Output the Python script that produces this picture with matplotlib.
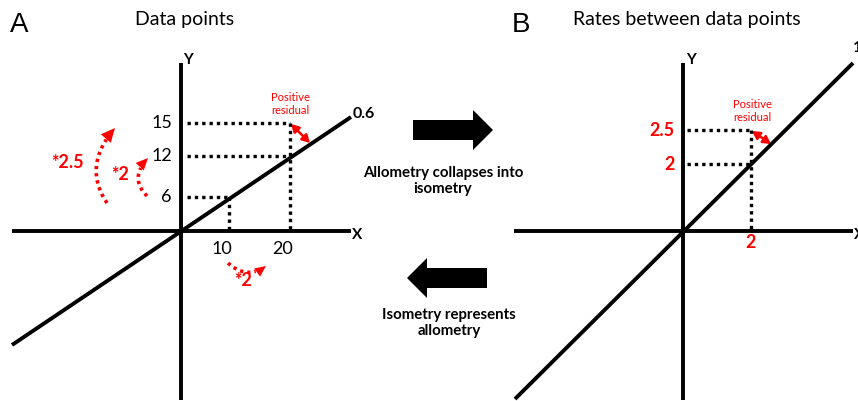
import numpy as np
import matplotlib.pyplot as plt
from matplotlib.patches import FancyArrowPatch, FancyArrow, Polygon

plt.rcParams['font.family'] = ['Lato', 'DejaVu Sans']

# panel A: data points (schematic values)
a_x_vals = [10, 20]
a_y_vals = [6, 12, 15]
a_slope = '0.6'
a_factors = ['*2.5', '*2', '*2']

# panel B: rates between data points
b_x_vals = [2]
b_y_vals = [2, 2.5]
b_slope = '1'

mid_top = 'Allometry collapses into\nisometry'
mid_bottom = 'Isometry represents\nallometry'

# schematic pixel positions of the values above
a_org = (181, 231)
a_x_pos = [229, 290]
a_y_pos = [197, 156, 123]
b_org = (683, 231)
b_x_pos = [751]
b_y_pos = [164, 130]

W, H = 858, 401
fig = plt.figure(figsize=(8.58, 4.01), dpi=100)
ax = fig.add_axes([0, 0, 1, 1])
ax.set_xlim(0, W)
ax.set_ylim(H, 0)
ax.axis('off')

solid = dict(color='black', lw=2.8, solid_capstyle='butt')
dots = dict(color='black', lw=2.4, linestyle=(0, (1, 1.2)), dash_capstyle='butt')
red = '#ff0000'


def dotted_arc(p0, ctrl, tip, head_len, head_w):
    # quadratic curve drawn dotted, with a solid triangular head at the tip
    p0, ctrl, tip = map(np.asarray, (p0, ctrl, tip))
    t = np.linspace(0, 1, 60)[:, None]
    pts = (1 - t) ** 2 * p0 + 2 * (1 - t) * t * ctrl + t ** 2 * tip
    d = tip - ctrl
    d = d / np.hypot(*d)
    base = tip - d * head_len
    keep = np.hypot(*(pts - tip).T) > head_len
    ax.plot(pts[keep, 0], pts[keep, 1], color=red, lw=2.6,
            linestyle=(0, (0.9, 1.1)), dash_capstyle='butt')
    n = np.array([-d[1], d[0]])
    ax.add_patch(Polygon([tip, base + n * head_w / 2, base - n * head_w / 2],
                         closed=True, color=red, lw=0))


# ---- panel A ----
ox, oy = a_org
ax.plot([ox, ox], [63, 400], **solid)
ax.plot([12, 351], [oy, oy], **solid)
ax.plot([12, 351], [345, 117], **solid)
ax.text(183, 60, 'Y', fontsize=11, fontweight='bold', ha='left', va='center')
ax.text(352, 235, 'X', fontsize=11, fontweight='bold', ha='left', va='center')
ax.text(353, 114, a_slope, fontsize=11.5, fontweight='bold', ha='left', va='center')

# dotted guides: y=6 -> x=10, y=12/15 -> x=20
ax.plot([187, a_x_pos[0]], [a_y_pos[0]] * 2, **dots)
ax.plot([a_x_pos[0]] * 2, [a_y_pos[0], oy - 2], **dots)
for yp in a_y_pos[1:]:
    ax.plot([187, a_x_pos[1]], [yp, yp], **dots)
ax.plot([a_x_pos[1]] * 2, [a_y_pos[2], oy - 2], **dots)

for v, yp in zip(a_y_vals, a_y_pos):
    ax.text(172, yp, str(v), fontsize=13, ha='right', va='center')
for v, xp in zip(a_x_vals, a_x_pos):
    ax.text(xp - 7, 249, str(v), fontsize=13, ha='center', va='center')

# positive residual
ax.add_patch(FancyArrowPatch((291, 124), (310, 143), arrowstyle='<|-|>,head_length=0.45,head_width=0.25',
                             mutation_scale=10, color=red, lw=1.8, shrinkA=0, shrinkB=0))
ax.text(290, 104, 'Positive\nresidual', fontsize=8, color=red, ha='center', va='center', linespacing=1.2)

# multiplication arcs
dotted_arc((107, 203), (82, 166), (115, 128), 14, 13)
dotted_arc((147, 196), (129, 178), (148, 158), 12, 11)
dotted_arc((228, 263), (247, 280), (266, 266), 11, 10)
for lab, (xp, yp) in zip(a_factors, [(67, 163), (120, 175), (243, 281)]):
    ax.text(xp, yp, lab, fontsize=13, fontweight='bold', color=red, ha='center', va='center')

ax.text(10, 25, 'A', fontsize=20, family='Liberation Sans', ha='left', va='center')
ax.text(185, 20, 'Data points', fontsize=14, ha='center', va='center')

# ---- middle arrows ----
ax.add_patch(FancyArrow(413, 130, 80, 0, width=20, head_width=40, head_length=20,
                        length_includes_head=True, color='black', lw=0))
ax.text(443, 181, mid_top, fontsize=10.8, fontweight='bold', ha='center', va='center', linespacing=1.2)
ax.add_patch(FancyArrow(487, 278, -80, 0, width=20, head_width=40, head_length=20,
                        length_includes_head=True, color='black', lw=0))
ax.text(449, 323, mid_bottom, fontsize=10.8, fontweight='bold', ha='center', va='center', linespacing=1.2)

# ---- panel B ----
ox, oy = b_org
ax.plot([ox, ox], [63, 400], **solid)
ax.plot([514, 853], [oy, oy], **solid)
ax.plot([515, 853], [399, 63], **solid)
ax.text(686, 60, 'Y', fontsize=11, fontweight='bold', ha='left', va='center')
ax.text(854, 235, 'X', fontsize=11, fontweight='bold', ha='left', va='center')
ax.text(853, 48, b_slope, fontsize=11.5, fontweight='bold', ha='left', va='center')

for yp in b_y_pos:
    ax.plot([687, b_x_pos[0]], [yp, yp], **dots)
ax.plot([b_x_pos[0]] * 2, [b_y_pos[1], oy - 2], **dots)

for v, yp in zip(b_y_vals, b_y_pos):
    ax.text(675, yp, str(v), fontsize=13, fontweight='bold', color=red, ha='right', va='center')
for v, xp in zip(b_x_vals, b_x_pos):
    ax.text(xp, 243, str(v), fontsize=13, fontweight='bold', color=red, ha='center', va='center')

ax.add_patch(FancyArrowPatch((752, 131), (771, 144), arrowstyle='<|-|>,head_length=0.45,head_width=0.25',
                             mutation_scale=10, color=red, lw=1.8, shrinkA=0, shrinkB=0))
ax.text(752, 111, 'Positive\nresidual', fontsize=8, color=red, ha='center', va='center', linespacing=1.2)

ax.text(512, 25, 'B', fontsize=20, family='Liberation Sans', ha='left', va='center')
ax.text(687, 20, 'Rates between data points', fontsize=14, ha='center', va='center')

fig.savefig('out.png', dpi=100, facecolor='white')
